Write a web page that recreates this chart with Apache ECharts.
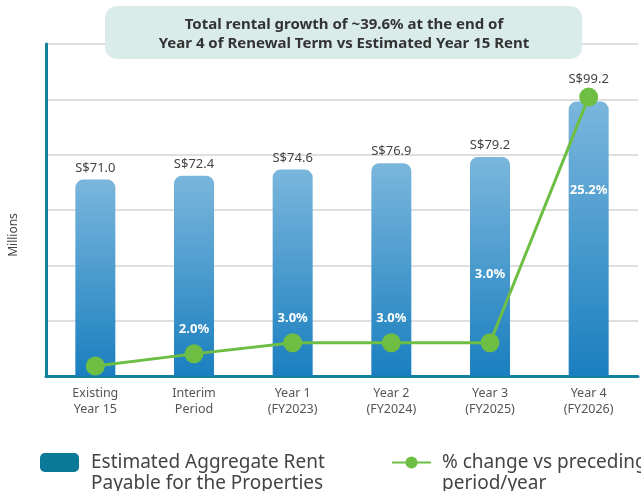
<!DOCTYPE html>
<html>
<head>
<meta charset="utf-8">
<script src="https://cdn.jsdelivr.net/npm/echarts@6/dist/echarts.min.js"></script>
<style>html,body{margin:0;padding:0;background:#fff}#c{width:641px;height:491px}</style>
</head>
<body>
<div id="c"></div>
<script>
// ---- data ----
var categories = ['Existing\nYear 15', 'Interim\nPeriod', 'Year 1\n(FY2023)', 'Year 2\n(FY2024)', 'Year 3\n(FY2025)', 'Year 4\n(FY2026)'];
var rentValues = [71.0, 72.4, 74.6, 76.9, 79.2, 99.2];
var changeValues = [0.9, 2.0, 3.0, 3.0, 3.0, 25.2];
var changeLabels = ['', '2.0%', '3.0%', '3.0%', '3.0%', '25.2%'];
var barName = 'Estimated Aggregate Rent Payable for the Properties';
var lineName = '% change vs preceding period/year';
var titleLines = ['Total rental growth of ~39.6% at the end of', 'Year 4 of Renewal Term vs Estimated Year 15 Rent'];

// ---- presentation ----
var FONT = '"Noto Sans", sans-serif';
var lineLabelShiftY = [0, 0, 0, 0, -44, 118];
var barLabelShiftY = [0, 0, 0, 0, 0, -11];
var legendText = {};
legendText[barName] = '\nEstimated Aggregate Rent\nPayable for the Properties';
legendText[lineName] = '\n% change vs preceding\nperiod/year';

var lineData = changeValues.map(function (v, i) {
  return {
    value: v,
    label: {
      show: changeLabels[i] !== '',
      formatter: changeLabels[i],
      offset: [0, lineLabelShiftY[i]]
    }
  };
});
var barData = rentValues.map(function (v, i) {
  return {value: v, label: {offset: [0, barLabelShiftY[i]]}};
});

var chart = echarts.init(document.getElementById('c'), null, {renderer: 'canvas'});
chart.setOption({
  animation: false,
  textStyle: {fontFamily: FONT},
  grid: {left: 44, right: 3, top: 44, bottom: 115, containLabel: false},
  xAxis: {
    type: 'category',
    data: categories,
    axisLine: {show: true, lineStyle: {color: '#13819b', width: 3}},
    axisTick: {show: false},
    axisLabel: {color: '#555', fontSize: 12.5, lineHeight: 16, margin: 9, fontFamily: FONT}
  },
  yAxis: [{
    type: 'value', min: 0, max: 120, interval: 20,
    name: 'Millions', nameLocation: 'middle', nameGap: 26, nameRotate: 90,
    nameTextStyle: {color: '#444', fontSize: 12, fontFamily: FONT, padding: [0, 50, 0, 0]},
    axisLine: {show: true, lineStyle: {color: '#13819b', width: 3}},
    axisTick: {show: false},
    axisLabel: {show: false},
    splitLine: {show: true, lineStyle: {color: '#d4d4d4', width: 1.5}}
  }, {
    type: 'value', min: 0, max: 30, show: false, splitLine: {show: false}
  }],
  legend: [{
    data: [{name: barName, itemStyle: {color: '#0b7a99'}}],
    left: 40, top: 431, padding: 0, icon: 'roundRect', itemWidth: 39, itemHeight: 19,
    formatter: function (n) { return legendText[n]; },
    textStyle: {color: '#444', fontSize: 19, lineHeight: 21, fontFamily: FONT, padding: [0, 0, 0, 7]}
  }, {
    data: [lineName],
    left: 391, top: 431, padding: 0, itemWidth: 39, itemHeight: 15,
    formatter: function (n) { return legendText[n]; },
    textStyle: {color: '#444', fontSize: 19, lineHeight: 21, fontFamily: FONT, padding: [0, 0, 0, 6]}
  }],
  graphic: [{
    type: 'rect', z: 100, shape: {x: 105, y: 6, width: 477, height: 53, r: 12},
    style: {fill: '#d9ecea'}
  }, {
    type: 'text', z: 101, x: 344, y: 25,
    style: {text: titleLines[0], fill: '#333', font: 'bold 15px ' + FONT, align: 'center', verticalAlign: 'middle'}
  }, {
    type: 'text', z: 101, x: 344, y: 44,
    style: {text: titleLines[1], fill: '#333', font: 'bold 15px ' + FONT, align: 'center', verticalAlign: 'middle'}
  }],
  series: [{
    name: barName,
    type: 'bar',
    data: barData,
    barWidth: 40,
    itemStyle: {
      borderRadius: [8, 8, 0, 0],
      color: new echarts.graphic.LinearGradient(0, 0, 0, 1, [
        {offset: 0, color: '#7ab6dc'},
        {offset: 1, color: '#1a7fbf'}
      ])
    },
    label: {
      show: true, position: 'top', distance: 5, color: '#444', fontSize: 13, fontFamily: FONT,
      formatter: function (p) { return 'S$' + p.value.toFixed(1); }
    }
  }, {
    name: lineName,
    type: 'line',
    yAxisIndex: 1,
    data: lineData,
    symbol: 'circle',
    symbolSize: 19,
    z: 5,
    lineStyle: {color: '#6fbe44', width: 3},
    itemStyle: {color: '#6fbe44'},
    label: {position: 'top', distance: 9, color: '#fff', fontSize: 13, fontWeight: 'bold', fontFamily: FONT}
  }]
});
</script>
</body>
</html>
